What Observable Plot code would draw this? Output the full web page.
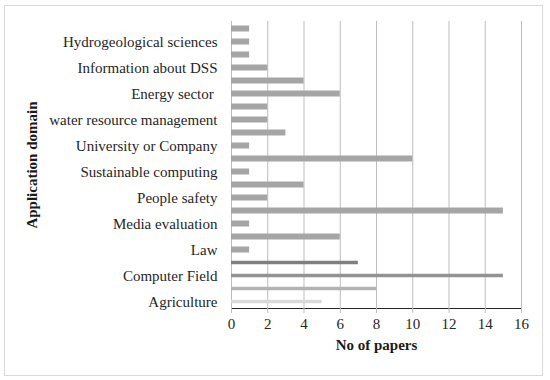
<!DOCTYPE html>
<html>
<head>
<meta charset="utf-8">
<script src="https://cdn.jsdelivr.net/npm/d3@7"></script>
<script src="https://cdn.jsdelivr.net/npm/@observablehq/plot@0.6"></script>
<style>
  html, body { margin: 0; padding: 0; background: #fff; }
  #wrap { position: relative; width: 550px; height: 380px; }
  #frame { position: absolute; left: 4px; top: 5px; width: 537px; height: 369px; border: 1px solid #d9d9d9; pointer-events: none; }
  #chart { position: absolute; left: 0; top: 0; }
</style>
</head>
<body>
<div id="wrap"><div id="chart"></div><div id="frame"></div></div>
<script>
// Categories top to bottom (only every other one is labelled in the source)
const categories = ["", "Hydrogeological sciences", "", "Information about DSS", "", "Energy sector ", "", "water resource management", "", "University or Company", "", "Sustainable computing", "", "People safety", "", "Media evaluation", "", "Law", "", "Computer Field", "", "Agriculture"];
const papers = [1, 1, 1, 2, 4, 6, 2, 2, 3, 1, 10, 1, 4, 2, 15, 1, 6, 1, 7, 15, 8, 5];
const xTicks = [0, 2, 4, 6, 8, 10, 12, 14, 16];
const xTitle = "No of papers";
const yTitle = "Application domain";

const rows = categories.map((c, i) => ({i, label: c, value: papers[i]}));
// styling: last four bars use distinct grays and thinner bars
const specialFill = {18: "#7f7f7f", 19: "#939393", 20: "#b3b3b3", 21: "#d9d9d9"};
const mainRows = rows.filter(d => !(d.i in specialFill));
const specialRows = rows.filter(d => d.i in specialFill);

const chart = Plot.plot({
  width: 550,
  height: 380,
  marginLeft: 231,
  marginRight: 29,
  marginTop: 21,
  marginBottom: 72,
  style: {fontFamily: "'Liberation Serif', serif", fontSize: "15px", color: "#262626", background: "transparent"},
  x: {domain: [0, 16], ticks: xTicks, tickSize: 5, tickPadding: 5, label: null, line: true},
  y: {domain: rows.map(d => d.i), tickFormat: i => categories[i], tickSize: 0, tickPadding: 14, label: null, padding: 0},
  marks: [
    Plot.gridX(xTicks, {stroke: "#bdbdbd", strokeOpacity: 1, strokeWidth: 1}),
    Plot.barX(mainRows, {x: "value", y: "i", fill: "#a5a5a5", insetTop: 3.5, insetBottom: 3.5}),
    Plot.barX(specialRows, {x: "value", y: "i", fill: d => specialFill[d.i], insetTop: 4.75, insetBottom: 4.75}),
    Plot.text([xTitle], {frameAnchor: "bottom", dy: 41, fontWeight: "bold", fontSize: 15, fill: "#1a1a1a"}),
    Plot.text([yTitle], {frameAnchor: "left", dx: -199, rotate: -90, textAnchor: "middle", fontWeight: "bold", fontSize: 15, fill: "#1a1a1a"})
  ]
});
d3.select(chart).selectAll("[aria-label='x-axis tick'] path, [aria-label='x-axis'] path, g[aria-label='x-axis tick']").attr("stroke", "#bdbdbd");
document.getElementById("chart").appendChild(chart);
</script>
</body>
</html>
